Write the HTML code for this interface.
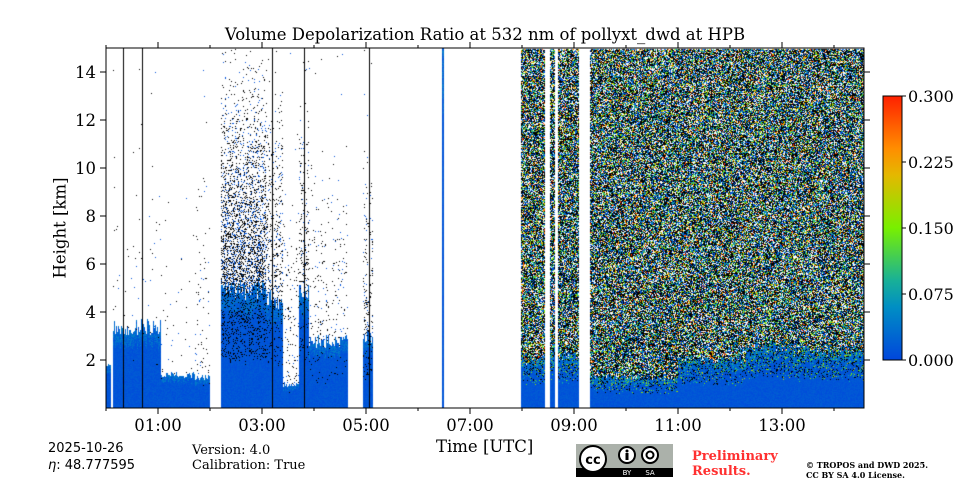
<!DOCTYPE html>
<html><head><meta charset="utf-8">
<style>
body{margin:0;background:#fff;width:960px;height:480px;overflow:hidden;position:relative;font-family:"DejaVu Serif","Liberation Serif",serif;}
.t{position:absolute;white-space:nowrap;color:#000;}
</style></head>
<body>
<div class="t" style="left:0;width:970px;text-align:center;top:25px;font-size:16.5px;">Volume Depolarization Ratio at 532 nm of pollyxt_dwd at HPB</div>
<canvas id="cv" width="758" height="360" style="position:absolute;left:106px;top:48px;"></canvas>
<svg id="ax" width="960" height="480" style="position:absolute;left:0;top:0;"></svg>
<div class="t" style="left:60px;top:228px;font-size:16.5px;transform:translate(-50%,-50%) rotate(-90deg);">Height [km]</div>
<div class="t" style="left:436px;top:437px;font-size:16.5px;">Time [UTC]</div>
<div class="t" style="left:48px;top:441px;font-size:13px;font-family:'DejaVu Sans',sans-serif;">2025-10-26</div>
<div class="t" style="left:48px;top:458px;font-size:13px;font-family:'DejaVu Sans',sans-serif;"><i>η</i>: 48.777595</div>
<div class="t" style="left:192px;top:443px;font-size:13px;">Version: 4.0</div>
<div class="t" style="left:192px;top:458px;font-size:13px;">Calibration: True</div>
<svg style="position:absolute;left:576px;top:444px;" width="97" height="33">
<rect width="97" height="33" fill="#abb1aa"/><rect y="24" width="97" height="9" fill="#000"/>
<circle cx="17" cy="15" r="13" fill="#fff" stroke="#000" stroke-width="2"/>
<text x="17" y="20" font-size="13" font-weight="bold" text-anchor="middle" font-family="DejaVu Sans,sans-serif">cc</text>
<circle cx="51" cy="11" r="8" fill="#fff" stroke="#000" stroke-width="2"/><circle cx="51" cy="7" r="1.5"/><rect x="49.5" y="9" width="3" height="7"/>
<circle cx="74" cy="11" r="8" fill="#fff" stroke="#000" stroke-width="2"/><circle cx="74" cy="11" r="3.5" fill="none" stroke="#000" stroke-width="2"/>
<text x="51" y="31" font-size="7" fill="#fff" text-anchor="middle" font-family="DejaVu Sans,sans-serif">BY</text>
<text x="74" y="31" font-size="7" fill="#fff" text-anchor="middle" font-family="DejaVu Sans,sans-serif">SA</text>
</svg>
<div class="t" style="left:692px;top:449px;font-size:13px;font-weight:bold;color:#ff3030;line-height:15px;">Preliminary<br>Results.</div>
<div class="t" style="left:806px;top:460px;font-size:8px;font-weight:bold;line-height:10px;">© TROPOS and DWD 2025.<br>CC BY SA 4.0 License.</div>
<script>
// time segments (hours UTC)
const segStart = [0.00,0.13,1.04,1.70,2.21,3.06,3.40,3.70,3.90,4.94,6.45,7.98,8.52,8.69,9.29,11.0,12.3,13.2];
const segEnd   = [0.08,1.04,1.70,2.00,3.06,3.40,3.70,3.90,4.65,5.12,6.50,8.44,8.62,9.08,11.0,12.3,13.2,14.6];
const blueTop  = [1.7, 3.4, 1.4, 1.3, 5.0, 4.5, 1.0, 5.0, 2.8, 3.0, 15, 2.0, 2.5, 2.2, 1.3, 2.0, 2.6, 2.4];
const noiseTop = [1.7, 15, 15, 15, 15, 15, 15, 15, 15, 15, 15, 15, 15, 15, 15, 15, 15, 15];
const noiseKind= ['d','d','d','d','d','d','d','d','d','d','d','c','c','c','c','c','c','c'];
const noiseDens= [0, 0.01,0.01,0.03,0.45,0.2,0.06,0.15,0.05,0.15,0, 0.85,0.85,0.85,0.85,0.85,0.85,0.85];
const blackLines=[0.33,0.69,3.2,3.8,5.05];
const yTicks=[2,4,6,8,10,12,14];
const xTickHours=[0,1,2,3,4,5,6,7,8,9,10,11,12,13,14];
const cbTicks=[0,0.075,0.15,0.225,0.3];

const X0=106,X1=864,Y0=408,Y1=48,HMAX=14.577,ZMAX=15;
const xs=h=>X0+(X1-X0)*h/HMAX, ys=z=>Y0-(Y0-Y1)*z/ZMAX;
function hash(i,j){let n=(i*374761393+j*668265263)|0;n=(n^(n>>>13))*1274126177|0;return ((n^(n>>>16))>>>0)/4294967296;}
function cmap(v){const t=Math.max(0,Math.min(1,v/0.3));
 const st=[[0,[0,70,220]],[0.25,[0,160,190]],[0.5,[120,240,0]],[0.75,[255,170,0]],[1,[255,32,0]]];
 for(let k=1;k<st.length;k++){if(t<=st[k][0]){const a=st[k-1],b=st[k],f=(t-a[0])/(b[0]-a[0]);return a[1].map((c,i)=>Math.round(c+(b[1][i]-c)*f));}}return st[4][1];}
const cv=document.getElementById('cv'),ctx=cv.getContext('2d');
const img=ctx.createImageData(758,360),D=img.data;
const C=1;
for(let px=0;px<758;px+=C){const h=px/(X1-X0)*HMAX;let s=-1;
 for(let k=0;k<segStart.length;k++){if(h>=segStart[k]&&h<segEnd[k]){s=k;break;}}
 if(s<0)continue;
 const bt=blueTop[s]*(0.9+0.2*hash(px,1));
 for(let py=0;py<360;py+=C){const z=(360-py)/360*ZMAX;const r=hash(px,py),r2=hash(py+7,px+13);let col=null;
  if(z<bt){
    if(noiseKind[s]==='d'&&z>bt*0.4&&r<noiseDens[s]*0.4) col=[0,0,0];
    else if(noiseKind[s]==='c'&&z>bt*0.5&&r<0.35*(z/bt)) col=r2<0.5?[0,0,0]:cmap(r2*r2*0.2);
    else col=cmap(0.005+0.03*r2*(z>bt*0.8?1.5:0.5));
  } else if(z<noiseTop[s]){
    if(noiseKind[s]==='d'){const d=noiseDens[s]*Math.max(0.05,1-(z-bt)/9);
      if(r<d) col=r2<0.7?[0,0,0]:cmap(0.01);}
    else{ if(r<noiseDens[s]){ if(r2<0.42)col=[0,0,0];else if(r2<0.95){const u=(r2-0.42)/0.53;col=cmap(u*u*0.3);}else col=null;} }
  }
  if(col){const q=(py*758+px)*4;D[q]=col[0];D[q+1]=col[1];D[q+2]=col[2];D[q+3]=255;}
 }}
ctx.putImageData(img,0,0);
ctx.fillStyle='#000';
blackLines.forEach(h=>ctx.fillRect(Math.round(xs(h)-X0),0,1,360));
// axes
const NS='http://www.w3.org/2000/svg',svg=document.getElementById('ax');
function el(t,a,txt){const e=document.createElementNS(NS,t);for(const k in a)e.setAttribute(k,a[k]);if(txt!==undefined)e.textContent=txt;svg.appendChild(e);return e;}
const fr=el('rect',{x:X0,y:Y1,width:X1-X0,height:Y0-Y1,fill:'none',stroke:'#000','stroke-width':1});


yTicks.forEach(v=>{const y=ys(v);
 el('line',{x1:X0-6,x2:X0,y1:y,y2:y,stroke:'#000'});el('line',{x1:X1,x2:X1+6,y1:y,y2:y,stroke:'#000'});
 const t=el('text',{x:X0-10,y:y+6,'font-size':16.5,'text-anchor':'end','font-family':'DejaVu Serif,serif'},String(v));
 
 });
xTickHours.forEach(h=>{const x=xs(h),maj=h%2===1,L=maj?6:3;
 el('line',{x1:x,x2:x,y1:Y0,y2:Y0+L,stroke:'#000'});el('line',{x1:x,x2:x,y1:Y1-L,y2:Y1,stroke:'#000'});
 if(maj){const t=el('text',{x:x,y:Y0+23,'font-size':16.5,'text-anchor':'middle','font-family':'DejaVu Serif,serif'},(h<10?'0':'')+h+':00');
 
 }});
// colorbar
const defs=el('defs',{});const g=document.createElementNS(NS,'linearGradient');g.setAttribute('id','cb');g.setAttribute('x1',0);g.setAttribute('y1',1);g.setAttribute('x2',0);g.setAttribute('y2',0);defs.appendChild(g);
for(let i=0;i<=10;i++){const c=cmap(0.03*i);const st=document.createElementNS(NS,'stop');st.setAttribute('offset',i/10);st.setAttribute('stop-color','rgb('+c.join(',')+')');g.appendChild(st);}
const cb=el('rect',{x:883,y:96,width:19,height:264,fill:'url(#cb)',stroke:'#000'});


cbTicks.forEach(v=>{const y=360-264*v/0.3;el('line',{x1:902,x2:906,y1:y,y2:y,stroke:'#000'});
 const t=el('text',{x:908,y:y+6,'font-size':16,'font-family':'DejaVu Serif,serif'},v.toFixed(3));
 
 });
</script>
</body></html>
